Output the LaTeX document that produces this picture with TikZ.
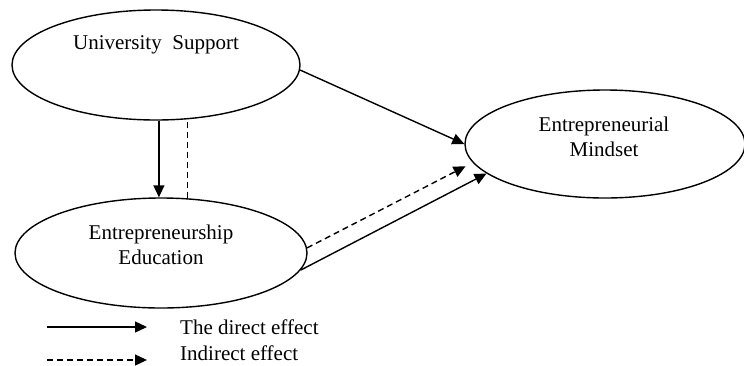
\documentclass[tikz,border=0pt]{standalone}
\usepackage{fontspec}
\setmainfont{Liberation Serif}
\usetikzlibrary{shapes.geometric,arrows.meta}

\tikzset{
  var/.style={draw,ellipse,line width=1.4pt,inner sep=0pt},
  lbl/.style={align=center,inner sep=0pt,font=\fontsize{21}{25}\selectfont},
  direct/.style={line width=1.4pt,-{Triangle[length=12pt,width=11pt]}},
  indirect/.style={direct,dash pattern=on 6pt off 4pt}
}

\begin{document}
\begin{tikzpicture}[x=1pt,y=-1pt]
\useasboundingbox (0,0) rectangle (744,365);

\node[var,minimum width=288pt,minimum height=110pt] (us) at (156,65) {};
\node[var,minimum width=292pt,minimum height=110pt] (ee) at (161,253) {};
\node[var,minimum width=280pt,minimum height=108pt] (em) at (605,144) {};

\node[lbl] (ustext) at (156,45) {University\ \ Support};
\node[lbl] (eetext) at (161,245) {Entrepreneurship\\Education};
\node[lbl] (emtext) at (604,137) {Entrepreneurial\\Mindset};

\draw[direct] (us.-87) -- (us.-87 |- ee.north);
\draw[dash pattern=on 6pt off 4pt,line width=1.4pt] (ee.64) -- (ee.64 |- us.south);

\draw[direct] (us.-2) -- (em.west);
\draw[indirect,shorten >=8pt] (ee.2) -- (em.188);
\draw[direct] (ee.-7) -- (em.194);

\coordinate (d0) at (47,327);
\coordinate (d1) at (147,327);
\draw[direct] (d0) -- (d1);
\node[lbl,anchor=west] (dtext) at (180,327) {The direct effect};

\coordinate (i0) at (47,360);
\coordinate (i1) at (147,360);
\draw[indirect] (i0) -- (i1);
\node[lbl,anchor=west] (itext) at (180,353) {Indirect effect};

\end{tikzpicture}
\end{document}
